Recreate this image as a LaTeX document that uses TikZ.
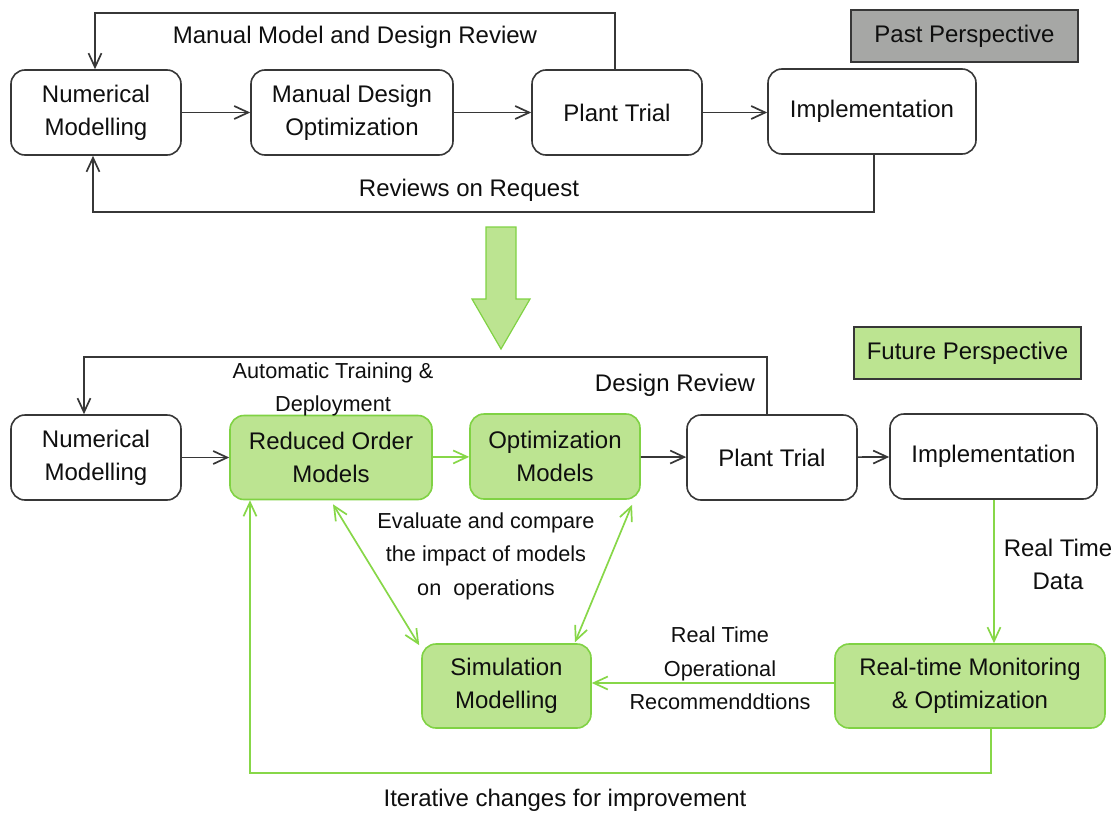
\documentclass[tikz,border=0pt]{standalone}
\usepackage{fontspec}
\setmainfont{Liberation Sans}
\usetikzlibrary{arrows.meta,calc}
\definecolor{gfill}{RGB}{188,228,145}
\definecolor{gline}{RGB}{135,215,72}
\definecolor{gbord}{RGB}{128,210,68}
\definecolor{pfill}{RGB}{166,167,165}
\definecolor{ink}{RGB}{15,15,15}
\definecolor{edge}{RGB}{55,55,55}
\begin{document}
\begin{tikzpicture}[x=1pt,y=-1pt,
  every node/.style={text=ink},
  box/.style={draw=edge, line width=1.6pt, rounded corners=14pt, align=center, inner sep=0pt, font=\fontsize{24}{33}\selectfont, fill=white},
  gbox/.style={box, draw=gbord, fill=gfill},
  tag/.style={draw=edge, line width=1.6pt, align=center, inner sep=0pt, font=\fontsize{24}{33}\selectfont, minimum width=227pt, minimum height=52pt},
  lab/.style={align=center, inner sep=0pt, font=\fontsize{24}{33}\selectfont},
  slab/.style={align=center, inner sep=0pt, font=\fontsize{21.7}{33.5}\selectfont},
  conn/.style={draw=edge, line width=1.7pt, -{Straight Barb[length=14pt,width=13pt]}},
  gconn/.style={conn, draw=gline},
  gdbl/.style={draw=gline, line width=1.7pt, {Straight Barb[length=14pt,width=13pt]}-{Straight Barb[length=14pt,width=13pt]}},
]
\useasboundingbox (0,0) rectangle (1119,814);

% ---------- Past perspective ----------
\node[tag, fill=pfill] (past) at (964.5,36) {Past Perspective};
\node[box, minimum width=170pt, minimum height=85pt] (nm1) at (96,112.5) {Numerical\\Modelling};
\node[box, minimum width=202pt, minimum height=85pt] (mdo) at (352,112.5) {Manual Design\\Optimization};
\node[box, minimum width=170pt, minimum height=85pt] (pt1) at (617,112.5) {Plant Trial};
\node[box, minimum width=208pt, minimum height=85pt] (im1) at (872,111.5) {Implementation};

\draw[conn] (nm1) -- (mdo);
\draw[conn] (mdo) -- (pt1);
\draw[conn] (pt1.east) -- (pt1.east -| im1.west);

\coordinate (t1) at (95,13);
\draw[conn] ($(pt1.north)+(-2,0)$) |- (t1) -- (t1 |- nm1.north);
\node[lab] (lt1) at (355,37) {Manual Model and Design Review};

\coordinate (b1) at (93,212);
\draw[conn] ($(im1.south)+(2,0)$) |- (b1) -- (b1 |- nm1.south);
\node[lab] (lb1) at (469,190) {Reviews on Request};

% ---------- big arrow ----------
\draw[draw=gbord, fill=gfill, line width=1.2pt] (486,227) -- (516,227) -- (516,299) -- (530,299) -- (501,349) -- (472,299) -- (486,299) -- cycle;

% ---------- Future perspective ----------
\node[tag, fill=gfill] (fut) at (967.5,353) {Future Perspective};
\node[box, minimum width=170pt, minimum height=85pt] (nm2) at (96,457.5) {Numerical\\Modelling};
\node[gbox, minimum width=202pt, minimum height=84pt] (rom) at (331,457.5) {Reduced Order\\Models};
\node[gbox, minimum width=170pt, minimum height=85pt] (om) at (555,456.5) {Optimization\\Models};
\node[box, minimum width=170pt, minimum height=85pt] (pt2) at (772,457.5) {Plant Trial};
\node[box, minimum width=207pt, minimum height=85pt] (im2) at (993.5,456.5) {Implementation};
\node[gbox, minimum width=169pt, minimum height=84pt] (sim) at (506.5,686) {Simulation\\Modelling};
\node[gbox, minimum width=270pt, minimum height=84pt] (rtm) at (970,686) {Real-time Monitoring\\\& Optimization};

\draw[conn] (nm2) -- (rom);
\draw[gconn] (rom) -- (om);
\draw[conn] (om) -- (pt2);
\draw[conn] (pt2) -- (im2);

\coordinate (t2) at (84,357);
\draw[conn] ($(pt2.north)+(-5,0)$) |- (t2) -- (t2 |- nm2.north);
\node[slab] (lt2) at (333,389.5) {Automatic Training \&\\Deployment};
\node[lab] (ldr) at (675,385) {Design Review};

\draw[gconn] ($(im2.south)+(0.5,0)$) -- ($(im2.south |- rtm.north)+(0.5,0)$);
\node[lab] (lrt) at (1058,564.5) {Real Time\\Data};

\draw[gconn] ($(rtm.west)+(0,-3)$) -- ($(sim.east)+(0,-3)$);
\node[slab] (lrec) at (720,668.5) {Real Time\\Operational\\Recommenddtions};

\draw[gdbl] ($(rom.south)+(2,4)$) -- ($(sim.north west)+(-2,2)$);
\draw[gdbl] ($(om.south)+(77,5)$) -- ($(sim.north)+(68.5,-1)$);
\node[slab] (lev) at (486,556) {Evaluate and compare\\the impact of models\\on~~operations};

\coordinate (b2) at (250,773);
\draw[gconn] ($(rtm.south)+(21,0)$) |- (b2) -- (b2 |- rom.south);
\node[lab] (lit) at (565,800) {Iterative changes for improvement};

\end{tikzpicture}
\end{document}
